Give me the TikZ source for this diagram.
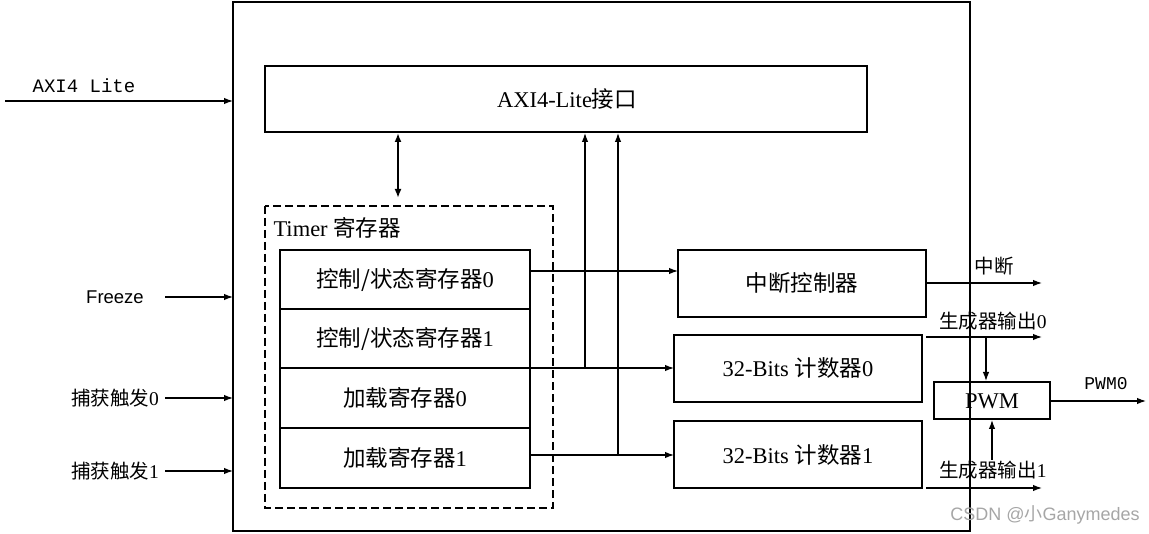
\documentclass[tikz,border=0pt]{standalone}
\usepackage{fontspec}
\setmainfont{Liberation Serif}
\newfontfamily\cjk{Noto Sans CJK SC}
\newfontfamily\mono{Liberation Mono}
\newfontfamily\sans{Liberation Sans}
\usetikzlibrary{arrows.meta}
\begin{document}
\begin{tikzpicture}[x=1pt,y=-1pt,
  box/.style={draw,line width=1.2pt,inner sep=0},
  arr/.style={-{Latex[length=9pt,width=6.5pt]},line width=1.2pt},
  ln/.style={line width=1.2pt},
  t/.style={font=\fontsize{22.5}{25}\selectfont},
  s/.style={font=\fontsize{19.5}{22}\selectfont}]
\useasboundingbox (0,0) rectangle (1149,534);
\draw[box] (233,2) rectangle (970,531);
\draw[box] (265,66) rectangle (867,132);
\node[t] (axi) at (567,99) {AXI4-Lite{\cjk 接口}};
\coordinate (da) at (398,133); \coordinate (db) at (398,198);
\draw[{Latex[length=9pt,width=7pt]}-{Latex[length=9pt,width=7pt]},line width=2pt] (da) -- (db);
\draw[line width=1.2pt,dash pattern=on 8pt off 4pt] (265,206) rectangle (553,508);
\node[t,anchor=west] (tm) at (270,228) {Timer {\cjk 寄存器}};
\draw[box] (280,250) rectangle (530,488);
\draw[ln] (280,309) -- (530,309) (280,428) -- (530,428);
\node[t] (r0) at (405,280) {\cjk 控制/状态寄存器\rmfamily 0};
\node[t] (r1) at (405,339) {\cjk 控制/状态寄存器\rmfamily 1};
\node[t] (r2) at (405,398) {\cjk 加载寄存器\rmfamily 0};
\node[t] (r3) at (405,458) {\cjk 加载寄存器\rmfamily 1};
\draw[box] (678,250) rectangle (926,317);
\node[t] (ic) at (802,283) {\cjk 中断控制器};
\draw[box] (674,335) rectangle (922,402);
\node[t] (c0) at (798,368) {32-Bits {\cjk 计数器}0};
\draw[box] (674,421) rectangle (922,488);
\node[t] (c1) at (798,455) {32-Bits {\cjk 计数器}1};
\draw[box] (934,382) rectangle (1050,419);
\node[t] (pwm) at (992,401) {PWM};
% internal arrows
\draw[arr] (530,271) -- (678,271);
\draw[arr] (280,368) -- (674,368);
\draw[arr] (530,455) -- (674,455);
\draw[arr] (585,368) -- (585,133);
\draw[arr] (618,455) -- (618,133);
% left inputs
\node[font=\mono\fontsize{19}{21}\selectfont] (l1) at (84,86) {AXI4 Lite};
\draw[arr] (5,101) -- (233,101);
\node[font=\sans\fontsize{18.5}{21}\selectfont] (l2) at (115,297) {Freeze};
\draw[arr] (165,297) -- (233,297);
\node[s] (l3) at (115,398) {\cjk 捕获触发\rmfamily 0};
\draw[arr] (165,398) -- (233,398);
\node[s] (l4) at (115,471) {\cjk 捕获触发\rmfamily 1};
\draw[arr] (165,471) -- (233,471);
% right outputs
\draw[arr] (926,283) -- (1042,283);
\node[s] (o1) at (994,266) {\cjk 中断};
\draw[arr] (926,337) -- (1042,337);
\node[s] (o2) at (993,321) {\cjk 生成器输出\rmfamily 0};
\draw[arr] (986,337) -- (986,381);
\draw[arr] (926,488) -- (1042,488);
\node[s] (o3) at (993,470) {\cjk 生成器输出\rmfamily 1};
\draw[arr] (992,460) -- (992,420);
\draw[arr] (1050,401) -- (1146,401);
\node[font=\mono\fontsize{18}{20}\selectfont] (o4) at (1106,384) {PWM0};
\node[font=\sans\fontsize{18}{20}\selectfont,text=gray!70] (wm) at (1045,515) {CSDN @{\cjk 小}Ganymedes};
\end{tikzpicture}
\end{document}
